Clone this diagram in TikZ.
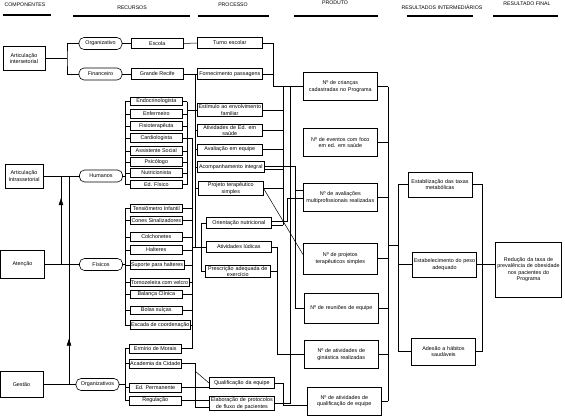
\documentclass[tikz,border=0pt]{standalone}
\usepackage{fontspec}
\setmainfont{Liberation Sans}
\usetikzlibrary{arrows.meta,decorations.markings}

\tikzset{
  caixa/.style={draw, line width=0.6pt, align=center, inner sep=1pt},
  comp/.style={caixa, minimum width=42pt, minimum height=24pt},
  tipo/.style={caixa, rounded corners=5pt, minimum width=43pt, minimum height=12pt},
  recurso/.style={caixa, anchor=west, minimum width=52pt, minimum height=8.5pt, inner sep=0.8pt},
  processo/.style={caixa, anchor=west, text width=63pt, minimum height=11pt},
  produto/.style={caixa, anchor=west, text width=72pt, minimum height=28pt},
  interm/.style={caixa, text width=62pt, minimum height=25pt},
  cabec/.style={font=\fontsize{5.2}{6}\selectfont},
  regua/.style={line width=1.5pt},
  seta/.style={postaction={decorate}, decoration={markings,
      mark=at position #1 with {\arrow{Triangle[width=4.5pt,length=7pt]}}}},
}

\begin{document}
\begin{tikzpicture}[x=1pt, y=-1pt, font=\fontsize{5.4}{6.5}\selectfont, line width=0.5pt]
  \useasboundingbox (0,0) rectangle (565,416);

  % Cabeçalhos
  \node[cabec] (hComp) at (25,5) {COMPONENTES};
  \node[cabec] (hRec) at (132,8) {RECURSOS};
  \node[cabec] (hProc) at (233,5) {PROCESSO};
  \node[cabec] (hProd) at (335,3) {PRODUTO};
  \node[cabec] (hInt) at (442,7) {RESULTADOS INTERMEDIÁRIOS};
  \node[cabec] (hFin) at (527,4) {RESULTADO FINAL};
  \draw[regua] (3,15) -- (51,15);
  \draw[regua] (73,16) -- (190,16);
  \draw[regua] (198,16) -- (269,16);
  \draw[regua] (294,16) -- (378,16);
  \draw[regua] (407,16) -- (473,16);
  \draw[regua] (493,16) -- (558,16);

  % Componentes
  \node[comp] (inter) at (24,58.5) {Articulação\\intersetorial};
  \node[comp, minimum width=38pt] (intra) at (24,176) {Articulação\\Intrassetorial};
  \node[comp, minimum width=44pt, minimum height=28pt] (aten) at (22.5,264.5) {Atenção};
  \node[comp, minimum width=43pt, minimum height=26pt] (gest) at (21.5,384.5) {Gestão};

  % Tipos de recurso
  \node[tipo] (org) at (100.5,43.5) {Organizativo};
  \node[tipo] (fin) at (100.5,74) {Financeiro};
  \node[tipo] (hum) at (101,176) {Humanos};
  \node[tipo] (fis) at (101,264.5) {Físicos};
  \node[tipo] (orgs) at (97.5,384.5) {Organizativos};

  \coordinate (bInter) at (67,58.5);
  \coordinate (xAt) at (61,0);
  \coordinate (xGe) at (69,0);
  \draw (inter.east) -- (bInter);
  \draw (org.west) -| (bInter) |- (fin.west);
  \draw (intra.east) -- (hum.west);
  \draw (aten.east) -- (fis.west);
  \draw (gest.east) -- (orgs.west);
  \draw[seta=0.75] (aten.east -| xAt) -- (intra.east -| xAt);
  \draw[seta=0.22] (gest.east -| xGe) -- (intra.east -| xGe);

  % Recursos
  \node[recurso, minimum height=10pt] (escola) at (131,43.5) {Escola};
  \node[recurso, minimum height=11pt] (recife) at (131,74) {Grande Recife};
  \draw (org.east) -- (escola.west);
  \draw (fin.east) -- (recife.west);

  \foreach \y/\nome [count=\i] in {101.5/Endocrinologista, 114/Enfermeiro,
      126/Fisioterapêuta, 138/Cardiologista, 151/Assistente Social,
      162/Psicólogo, 173/Nutricionista, 184.5/Ed. Físico}
    \node[recurso] (rh\i) at (130,\y) {\nome};
  \foreach \y/\nome [count=\i] in {208.5/Tensiômetro Infantil, 220.5/Cones Sinalizadores,
      237/Colchonetes, 250/Halteres, 265/Suporte para halteres,
      282.5/Tornozeleira com velcro, 294.5/Balança Clínica, 310.5/Bolas suíças,
      325/Escada de coordenação}
    \node[recurso] (rf\i) at (130,\y) {\nome};
  \foreach \y/\nome [count=\i] in {348.5/Ermírio de Morais, 363.5/Academia da Cidade,
      387.5/Ed. Permanente, 400.5/Regulação}
    \node[recurso, minimum height=9pt] (rg\i) at (129,\y) {\nome};

  \coordinate (xEsq) at (125,0);
  \coordinate (xHd) at (187,0);
  \coordinate (xFd) at (192,0);
  \coordinate (xO) at (195,0);

  % chaves dos recursos
  \draw (rh1.west -| xEsq) -- (rh8.west -| xEsq);
  \draw (rf1.west -| xEsq) -- (rf9.west -| xEsq);
  \draw (rg1.west -| xEsq) -- (rg4.west -| xEsq);
  \draw (hum.east) -- (hum.east -| xEsq);
  \draw (fis.east) -- (fis.east -| xEsq);
  \draw (orgs.east) -- (orgs.east -| xEsq);
  \foreach \i in {1,...,8} {
    \draw (rh\i.west) -- (rh\i.west -| xEsq);
    \draw (rh\i.east) -- (rh\i.east -| xHd);
  }
  \foreach \i in {1,...,9} {
    \draw (rf\i.west) -- (rf\i.west -| xEsq);
    \draw (rf\i.east) -- (rf\i.east -| xFd);
  }
  \foreach \i in {1,...,4}
    \draw (rg\i.west) -- (rg\i.west -| xEsq);
  \draw (rh1.east -| xHd) -- (rh8.east -| xHd);
  \draw (rh4.east -| xHd) -- (rh4.east -| xFd) -- (rg1.east -| xFd) -- (rg1.east);

  % Processo
  \node[processo] (turno) at (197,43) {Turno escolar};
  \node[processo] (forn) at (197,74) {Fornecimento passagens};
  \node[processo] (estim) at (197,110) {Estímulo ao envolvimento\\familiar};
  \node[processo] (edsau) at (197,130.5) {Atividades de Ed. em\\saúde};
  \node[processo] (aval) at (197,149.5) {Avaliação em equipe};
  \node[processo, text width=65pt] (acomp) at (197,167) {Acompanhamento integral};
  \node[processo] (proj) at (198,188.5) {Projeto terapêutico\\simples};
  \node[processo] (orient) at (206,223) {Orientação nutricional};
  \node[processo] (ludic) at (206,247) {Atividades lúdicas};
  \node[processo] (presc) at (205,271.5) {Prescrição adequada de\\exercício};
  \node[processo] (qualif) at (209,383) {Qualificação da equipe};
  \node[processo] (elab) at (209,403.5) {Elaboração de protocolos\\de fluxo de pacientes};

  \coordinate (xP1) at (195,0);
  \coordinate (xP2) at (201,0);
  \draw (escola.east) -- (turno.west);
  \draw (recife.east) -- (forn.west);
  \draw (forn.west -| xP1) -- (ludic.west -| xP1);
  \foreach \p in {estim, edsau, aval, acomp, proj}
    \draw (\p.west -| xP1) -- (\p.west);
  \draw (estim.west -| xHd) -- (estim.west -| xP1);
  \draw (orient.west -| xP2) -- (presc.west -| xP2);
  \foreach \p in {orient, ludic, presc}
    \draw (\p.west -| xP2) -- (\p.west);
  \draw (ludic.west -| xFd) -- (ludic.west -| xP2);

  \coordinate (jAcad) at (195,371);
  \draw (rg2.east) -- (rg2.east -| xO) |- ([yshift=-4pt]elab.west);
  \draw (jAcad) -- (qualif.west);
  \draw (rg3.east) -- (qualif.west |- rg3.east);
  \draw (rg4.east) -- (elab.west |- rg4.east);

  % Produto
  \node[produto] (pCri) at (303,86.5) {Nº de crianças\\cadastradas no Programa};
  \node[produto] (pEve) at (303,142.5) {Nº de eventos com foco\\em ed. em saúde};
  \node[produto] (pAva) at (303,197.5) {Nº de avaliações\\multiprofissionais realizadas};
  \node[produto, minimum height=31pt] (pPts) at (303,258.5) {Nº de projetos\\terapêuticos simples};
  \node[produto, minimum height=30pt] (pReu) at (304,308) {Nº de reuniões de equipe};
  \node[produto] (pGin) at (304,354.5) {Nº de atividades de\\ginástica realizadas};
  \node[produto] (pQeq) at (307,401) {Nº de atividades de\\qualificação de equipe};

  \coordinate (xT) at (273,0);
  \coordinate (xL) at (277,0);
  \coordinate (xA) at (283,0);
  \coordinate (xD) at (287,0);
  \coordinate (xB) at (290,0);
  \coordinate (xC) at (295,0);
  \draw (turno.east) -- (turno.east -| xT) |- (pCri.west);
  \draw (forn.east) -- (forn.east -| xT);
  \draw (pCri.west -| xA) -- ([yshift=-2pt]orient.east -| xA);
  \foreach \p in {estim, edsau, aval, proj}
    \draw (\p.east) -- (\p.east -| xA);
  \draw ([yshift=-2pt]orient.east) -- ([yshift=-2pt]orient.east -| xA);
  \draw ([yshift=-2.5pt]acomp.east) -- ([yshift=-2.5pt]acomp.east -| xA);
  \draw ([yshift=1pt]acomp.east) -- ([yshift=1pt]acomp.east -| xC) |- (pReu.west);
  \draw ([yshift=7pt]pAva.west -| xC) -- ([yshift=7pt]pAva.west);
  \draw ([yshift=2pt]orient.east) -- ([yshift=2pt]orient.east -| xD) |- ([yshift=-1pt]pAva.west);
  \draw (pCri.west -| xB) -- (elab.east -| xB) -- (elab.east);
  \draw (proj.east) -- ([yshift=4pt]pPts.west);
  \draw (ludic.east) -- (ludic.east -| xL) |- (pGin.west);
  \draw (presc.east) -- (presc.east -| xL);
  \draw (qualif.east) -- (qualif.east -| xA) |- ([yshift=-4pt]pQeq.west);

  \coordinate (xR) at (388,0);
  \foreach \p in {pCri, pEve, pAva, pPts, pReu, pGin, pQeq}
    \draw (\p.east) -- (\p.east -| xR);
  \draw (pCri.east -| xR) -- (pQeq.east -| xR);

  % Resultados
  \node[interm] (rEst) at (440,184.5) {Estabilização das taxas\\metabólicas};
  \node[interm] (rPes) at (444.5,264.5) {Estabelecimento do peso\\adequado};
  \node[interm, minimum height=27pt] (rAde) at (443.5,351.5) {Adesão a hábitos\\saudáveis};
  \node[caixa, text width=64pt, minimum height=55pt] (final) at (528.5,269.5)
    {Redução da taxa de\\prevalência de obesidade\\nos pacientes do\\Programa};

  \coordinate (xI) at (398,0);
  \coordinate (xF) at (482,0);
  \coordinate (jRes) at (388,245);
  \draw (jRes) -- (jRes -| xI);
  \draw (rEst.west -| xI) -- (rAde.west -| xI);
  \foreach \r in {rEst, rPes, rAde}
    \draw (\r.west -| xI) -- (\r.west);
  \draw (rEst.east) -- (rEst.east -| xF) -- (rAde.east -| xF) -- (rAde.east);
  \draw (rPes.east) -- (final.west |- rPes.east);
\end{tikzpicture}
\end{document}
